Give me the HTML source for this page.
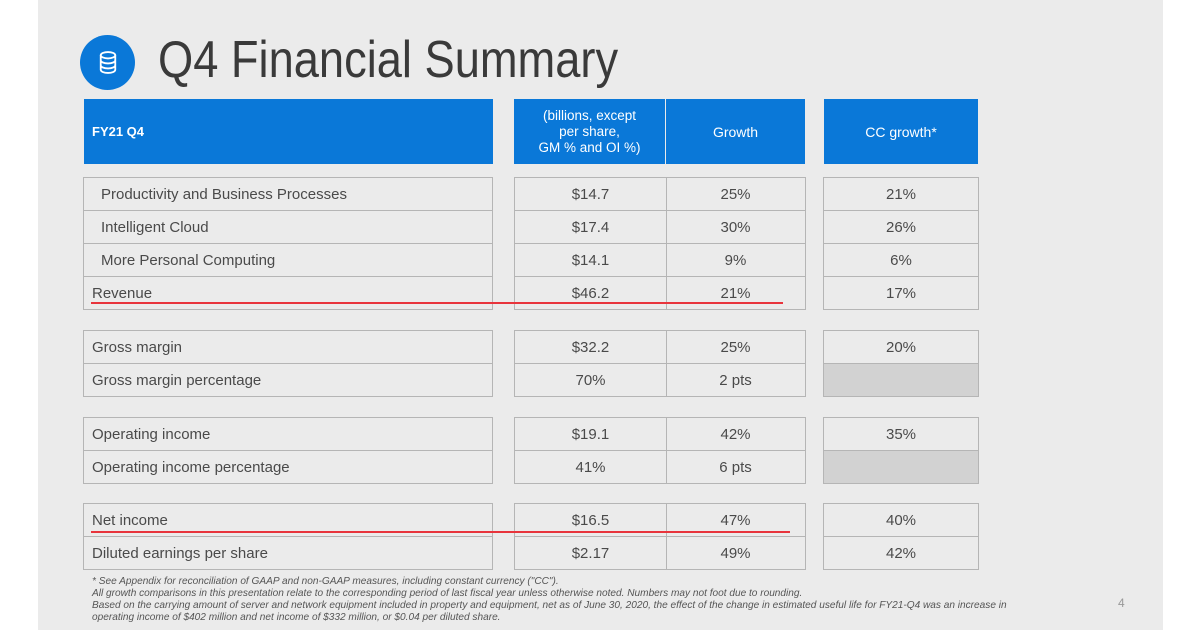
<!DOCTYPE html>
<html><head><meta charset="utf-8"><style>
body{margin:0;width:1200px;height:630px;background:#fff;position:relative;overflow:hidden;font-family:"Liberation Sans",sans-serif;}
#slide{position:absolute;left:38px;top:0;width:1125px;height:630px;background:#ebebeb;}
.a{position:absolute;box-sizing:border-box;}
.c{position:absolute;box-sizing:border-box;border:1.5px solid #b5b5b5;font-size:15px;color:#4a4a4a;display:flex;align-items:center;padding-top:1px;}
.l{padding-left:8px;}
.li{padding-left:17px;}
.m{justify-content:center;}
.h{position:absolute;background:#0a78d8;color:#fff;font-size:14px;display:flex;align-items:center;box-sizing:border-box;}
.g{background:#d2d2d2;}
.red{position:absolute;height:2px;background:#e8343c;}
.fn{position:absolute;left:92px;font-size:10.1px;font-style:italic;color:#555;white-space:nowrap;}
</style></head><body>
<div id="slide"></div>
<div class="a" style="left:80px;top:35px;width:55px;height:55px;border-radius:50%;background:#0a78d8;"></div>
<svg class="a" style="left:98px;top:50px" width="20" height="25" viewBox="0 0 22 26"><g fill="none" stroke="#fff" stroke-width="2"><ellipse cx="11" cy="5" rx="8" ry="3.5"/><path d="M3 5v16c0 2 3.6 3.5 8 3.5s8-1.5 8-3.5V5M3 10.5c0 2 3.6 3.5 8 3.5s8-1.5 8-3.5M3 16c0 2 3.6 3.5 8 3.5s8-1.5 8-3.5"/></g></svg>
<div class="a" style="left:158px;top:30px;font-size:52px;color:#3a3a3a;white-space:nowrap;transform:scaleX(0.87);transform-origin:0 0;">Q4 Financial Summary</div>

<div class="h" style="left:84px;top:99px;width:409px;height:65px;padding-left:8px;font-weight:bold;font-size:13px;">FY21 Q4</div>
<div class="h" style="left:514px;top:99px;width:151px;height:65px;justify-content:center;text-align:center;line-height:16px;font-size:13.5px;">(billions, except<br>per share,<br>GM % and OI %)</div>
<div class="h" style="left:666px;top:99px;width:139px;height:65px;justify-content:center;">Growth</div>
<div class="h" style="left:824px;top:99px;width:154px;height:65px;justify-content:center;">CC growth*</div>

<div class="c li" style="left:83px;top:177px;width:410px;height:34px;">Productivity and Business Processes</div>
<div class="c li" style="left:83px;top:209.5px;width:410px;height:34px;">Intelligent Cloud</div>
<div class="c li" style="left:83px;top:242.5px;width:410px;height:34px;">More Personal Computing</div>
<div class="c l" style="left:83px;top:275.5px;width:410px;height:34px;">Revenue</div>
<div class="c m" style="left:514px;top:177px;width:153px;height:34px;">$14.7</div>
<div class="c m" style="left:514px;top:209.5px;width:153px;height:34px;">$17.4</div>
<div class="c m" style="left:514px;top:242.5px;width:153px;height:34px;">$14.1</div>
<div class="c m" style="left:514px;top:275.5px;width:153px;height:34px;">$46.2</div>
<div class="c m" style="left:665.5px;top:177px;width:140px;height:34px;">25%</div>
<div class="c m" style="left:665.5px;top:209.5px;width:140px;height:34px;">30%</div>
<div class="c m" style="left:665.5px;top:242.5px;width:140px;height:34px;">9%</div>
<div class="c m" style="left:665.5px;top:275.5px;width:140px;height:34px;">21%</div>
<div class="c m" style="left:823px;top:177px;width:156px;height:34px;">21%</div>
<div class="c m" style="left:823px;top:209.5px;width:156px;height:34px;">26%</div>
<div class="c m" style="left:823px;top:242.5px;width:156px;height:34px;">6%</div>
<div class="c m" style="left:823px;top:275.5px;width:156px;height:34px;">17%</div>

<div class="c l" style="left:83px;top:329.5px;width:410px;height:34px;">Gross margin</div>
<div class="c l" style="left:83px;top:362.5px;width:410px;height:34px;">Gross margin percentage</div>
<div class="c m" style="left:514px;top:329.5px;width:153px;height:34px;">$32.2</div>
<div class="c m" style="left:514px;top:362.5px;width:153px;height:34px;">70%</div>
<div class="c m" style="left:665.5px;top:329.5px;width:140px;height:34px;">25%</div>
<div class="c m" style="left:665.5px;top:362.5px;width:140px;height:34px;">2 pts</div>
<div class="c m" style="left:823px;top:329.5px;width:156px;height:34px;">20%</div>
<div class="c m g" style="left:823px;top:362.5px;width:156px;height:34px;"></div>

<div class="c l" style="left:83px;top:416.5px;width:410px;height:34px;">Operating income</div>
<div class="c l" style="left:83px;top:449.5px;width:410px;height:34px;">Operating income percentage</div>
<div class="c m" style="left:514px;top:416.5px;width:153px;height:34px;">$19.1</div>
<div class="c m" style="left:514px;top:449.5px;width:153px;height:34px;">41%</div>
<div class="c m" style="left:665.5px;top:416.5px;width:140px;height:34px;">42%</div>
<div class="c m" style="left:665.5px;top:449.5px;width:140px;height:34px;">6 pts</div>
<div class="c m" style="left:823px;top:416.5px;width:156px;height:34px;">35%</div>
<div class="c m g" style="left:823px;top:449.5px;width:156px;height:34px;"></div>

<div class="c l" style="left:83px;top:502.5px;width:410px;height:34px;">Net income</div>
<div class="c l" style="left:83px;top:535.5px;width:410px;height:34px;">Diluted earnings per share</div>
<div class="c m" style="left:514px;top:502.5px;width:153px;height:34px;">$16.5</div>
<div class="c m" style="left:514px;top:535.5px;width:153px;height:34px;">$2.17</div>
<div class="c m" style="left:665.5px;top:502.5px;width:140px;height:34px;">47%</div>
<div class="c m" style="left:665.5px;top:535.5px;width:140px;height:34px;">49%</div>
<div class="c m" style="left:823px;top:502.5px;width:156px;height:34px;">40%</div>
<div class="c m" style="left:823px;top:535.5px;width:156px;height:34px;">42%</div>

<div class="red" style="left:91px;top:302px;width:692px;"></div>
<div class="red" style="left:91px;top:531px;width:699px;"></div>

<div class="fn" style="top:576px;">* See Appendix for reconciliation of GAAP and non-GAAP measures, including constant currency ("CC").</div>
<div class="fn" style="top:588px;">All growth comparisons in this presentation relate to the corresponding period of last fiscal year unless otherwise noted. Numbers may not foot due to rounding.</div>
<div class="fn" style="top:600px;">Based on the carrying amount of server and network equipment included in property and equipment, net as of June 30, 2020, the effect of the change in estimated useful life for FY21-Q4 was an increase in</div>
<div class="fn" style="top:612px;">operating income of $402 million and net income of $332 million, or $0.04 per diluted share.</div>
<div class="a" style="left:1118px;top:596px;font-size:12px;color:#999;">4</div>
</body></html>
